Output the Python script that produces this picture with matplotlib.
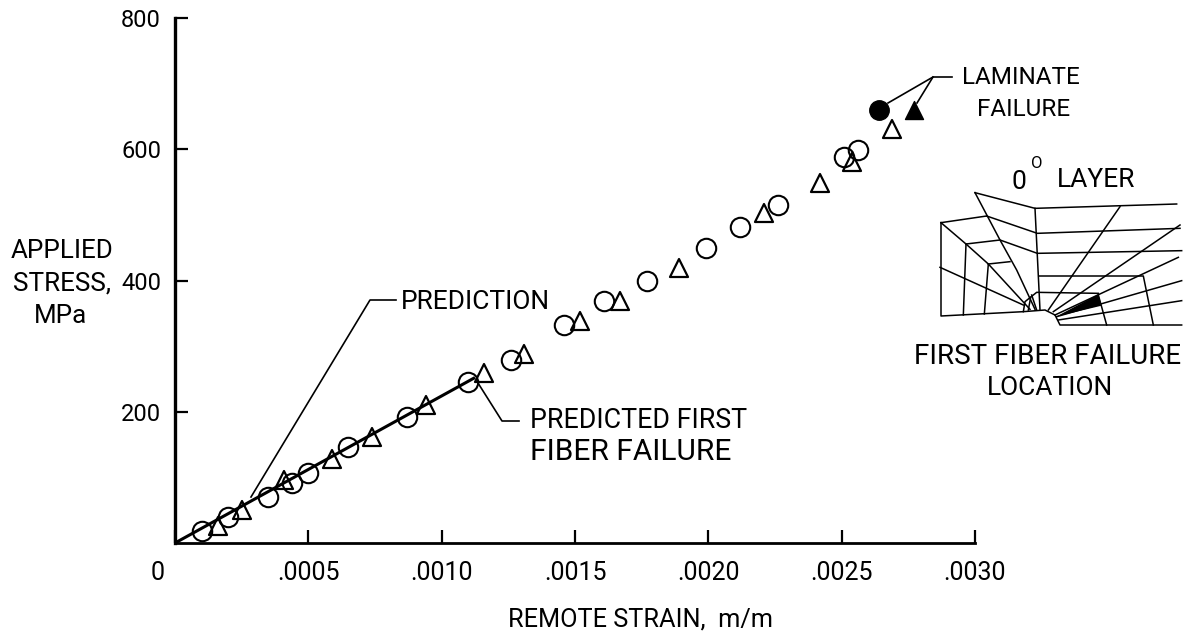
import matplotlib
matplotlib.use("Agg")
import matplotlib.pyplot as plt
from matplotlib.markers import MarkerStyle
from matplotlib.transforms import ScaledTranslation

plt.rcParams["font.family"] = ["Roboto", "DejaVu Sans"]

circle_x = [.00010,.00020,.00035,.00044,.00050,.00065,.00087,.00110,.00126,.00146,.00161,.00177,.00199,.00212,.00226,.00251,.00256]
circle_y = [18,40,70,91,107,146,192,246,279,332,369,399,450,482,515,588,599]
triangle_x = [.00016,.00025,.00041,.00059,.00074,.00094,.00116,.00131,.00152,.00167,.00189,.00221,.00242,.00254,.00269]
triangle_y = [26,50,96,128,162,210,259,288,338,369,419,503,549,581,631]
failure_circle = (.00264, 660)
failure_triangle = (.00277, 660)
prediction_x = [0, .00112]
prediction_y = [0, 251]
x_ticks = [0, .0005, .0010, .0015, .0020, .0025, .0030]
x_labels = ["0", ".0005", ".0010", ".0015", ".0020", ".0025", ".0030"]
y_ticks = [200, 400, 600, 800]

# Finite-element mesh sketch, in inset units
mesh_lines = [
    [(183,488),(183,768),(430,755),(495,750),(525,765),(540,795),(905,795)],
    [(183,488),(320,468)], [(285,398),(465,445),(890,432)],
    [(465,445),(480,750)], [(285,398),(360,540),(410,630),(465,748)],
    [(320,468),(472,520),(900,505)], [(258,552),(360,540),(472,580),(905,572)],
    [(183,488),(258,552),(325,612),(450,748)], [(258,552),(250,765)],
    [(325,612),(390,605)], [(325,612),(313,762)], [(180,622),(430,735)],
    [(478,648),(790,648),(820,795)], [(505,750),(720,440)],
    [(520,755),(900,495)], [(525,765),(895,592)], [(530,770),(905,662)],
    [(535,780),(905,722)], [(655,705),(680,795)],
    [(430,755),(435,725),(470,697),(655,700)], [(445,750),(452,712)], [(470,750),(455,705)],
]
mesh_wedge = [(528,770),(655,703),(665,737)]

W, H = 1193, 636
fig = plt.figure(figsize=(W/100, H/100), dpi=100)
ax = fig.add_axes([175/W, 1-543/H, 800/W, 525/H])
ax.set_xlim(0, .003); ax.set_ylim(0, 800)
for s in ("top", "right"):
    ax.spines[s].set_visible(False)
ax.spines["left"].set_linewidth(2.4)
ax.spines["bottom"].set_linewidth(2.0)
ax.set_xticks(x_ticks, x_labels)
ax.set_yticks(y_ticks)
ax.tick_params(axis="x", direction="in", length=9.5, width=1.6, pad=13, labelsize=18)
ax.tick_params(axis="y", direction="in", length=9.5, width=1.6, pad=10, labelsize=17)
ax.patch.set_alpha(0)
zero = ax.get_xticklabels()[0]
zero.set_transform(zero.get_transform() + ScaledTranslation(-.17, 0, fig.dpi_scale_trans))

tri = MarkerStyle("^", joinstyle="round")
ax.plot(prediction_x, prediction_y, color="k", lw=2.2, zorder=2)
ax.plot(circle_x, circle_y, "o", mfc="none", mec="k", mew=1.5, ms=14, zorder=3, clip_on=False)
ax.plot(triangle_x, triangle_y, linestyle="none", marker=tri, mfc="none", mec="k", mew=1.6, ms=12.5, zorder=3, clip_on=False)
ax.plot(*failure_circle, "o", color="k", ms=14, zorder=3)
ax.plot(*failure_triangle, linestyle="none", marker=tri, color="k", ms=12.5, zorder=3)

# Overlay in image pixels for callouts and the sketch
ov = fig.add_axes([0, 0, 1, 1])
ov.set_xlim(0, W); ov.set_ylim(H, 0); ov.axis("off"); ov.patch.set_alpha(0)

def txt(x, y, s, size=18, ha="center"):
    ov.text(x, y, s, fontsize=size, ha=ha, va="center", color="k")

txt(62, 251, "APPLIED", 18.7); txt(62, 284, "STRESS,", 18.7); txt(60, 316, "MPa", 18.7)
txt(640, 619, "REMOTE STRAIN,  m/m", 18.2)
txt(401, 302, "PREDICTION", 19, ha="left")
txt(530, 420, "PREDICTED FIRST", 19.3, ha="left"); txt(530, 452, "FIBER FAILURE", 21.5, ha="left")
txt(1021, 77, "LAMINATE", 17.5); txt(1024, 110, "FAILURE", 17.5)
txt(1057, 180, "LAYER", 19, ha="left"); txt(1019, 182, "0", 19); txt(1037, 164, "O", 12)
txt(1048, 356, "FIRST FIBER FAILURE", 20); txt(1050, 388, "LOCATION", 19)

ov.plot([396,370,251], [300,300,497], color="k", lw=1.2)
ov.plot([519,502,478], [421,421,383], color="k", lw=1.2)
ov.plot([952,933,888], [77,77,103], color="k", lw=1.2)
ov.plot([933,917], [77,103], color="k", lw=1.2)

def to_px(p):
    return 880 + p[0]/3, 60 + p[1]/3

for line in mesh_lines:
    pts = [to_px(p) for p in line]
    ov.plot([p[0] for p in pts], [p[1] for p in pts], color="k", lw=1.1, solid_joinstyle="round")
ov.fill(*zip(*[to_px(p) for p in mesh_wedge]), color="k", lw=0)

fig.savefig("out.png", dpi=100, facecolor="white")
